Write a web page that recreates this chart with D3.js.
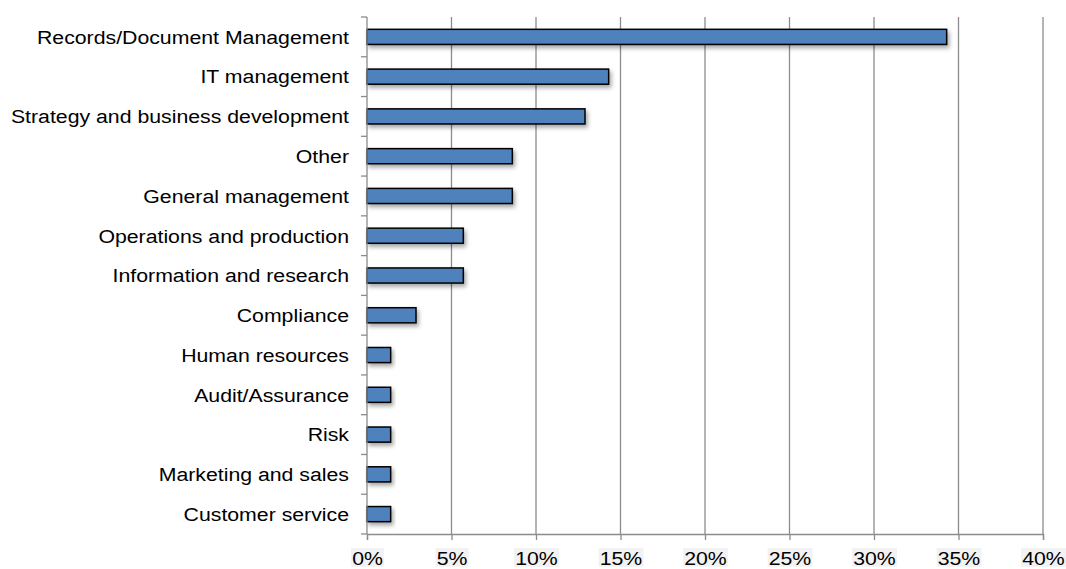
<!DOCTYPE html>
<html>
<head>
<meta charset="utf-8">
<script src="https://cdn.jsdelivr.net/npm/d3@7"></script>
<style>
  body { margin: 0; background: #fff; }
  svg { display: block; font-family: "Liberation Sans", Arial, sans-serif; }
</style>
</head>
<body>
<div id="chart"></div>
<script>
// categories, top to bottom
const CATEGORIES = [
  "Records/Document Management",
  "IT management",
  "Strategy and business development",
  "Other",
  "General management",
  "Operations and production",
  "Information and research",
  "Compliance",
  "Human resources",
  "Audit/Assurance",
  "Risk",
  "Marketing and sales",
  "Customer service"
];
// share of respondents, %
const VALUES = [34.3, 14.3, 12.9, 8.6, 8.6, 5.7, 5.7, 2.9, 1.4, 1.4, 1.4, 1.4, 1.4];
const X_TICKS = [0, 5, 10, 15, 20, 25, 30, 35, 40];

const WIDTH = 1066;
const HEIGHT = 569;
const MARGIN = {top: 17, right: 23, bottom: 35, left: 367};
const FONT_SIZE = 19;
const STRETCH = 1.12; // text in the picture is a bit wide

const SVG = d3.select("#chart").append("svg")
  .attr("width", WIDTH)
  .attr("height", HEIGHT);

const defs = SVG.append("defs");
const shadow = defs.append("filter")
  .attr("id", "shadow")
  .attr("x", "-10%").attr("y", "-50%")
  .attr("width", "130%").attr("height", "250%");
shadow.append("feDropShadow")
  .attr("dx", 2).attr("dy", 3)
  .attr("stdDeviation", 2.2)
  .attr("flood-color", "#000")
  .attr("flood-opacity", 0.35);

const X = d3.scaleLinear()
  .domain([0, 40])
  .range([MARGIN.left, WIDTH - MARGIN.right]);

const Y = d3.scaleBand()
  .domain(CATEGORIES)
  .range([MARGIN.top, HEIGHT - MARGIN.bottom])
  .paddingInner(0.62)
  .paddingOuter(0.31);

// gridlines
SVG.append("g")
  .selectAll("line")
  .data(X_TICKS.slice(1))
  .join("line")
  .attr("x1", d => X(d)).attr("x2", d => X(d))
  .attr("y1", MARGIN.top).attr("y2", HEIGHT - MARGIN.bottom)
  .attr("stroke", "#8c8c8c")
  .attr("stroke-width", 1.3);

// bars
SVG.append("g")
  .selectAll("rect")
  .data(VALUES)
  .join("rect")
  .attr("x", X(0))
  .attr("y", (d, i) => Y(CATEGORIES[i]))
  .attr("width", d => X(d) - X(0))
  .attr("height", Y.bandwidth())
  .attr("fill", "#4f81bd")
  .attr("stroke", "#000")
  .attr("stroke-width", 1.5)
  .attr("filter", "url(#shadow)");

// x axis
const xAxis = SVG.append("g")
  .attr("transform", `translate(0,${HEIGHT - MARGIN.bottom})`)
  .call(d3.axisBottom(X).tickValues(X_TICKS).tickFormat(d => d + "%").tickSize(6));
xAxis.select(".domain").attr("stroke", "#8c8c8c").attr("stroke-width", 1.3);
xAxis.selectAll(".tick line").attr("stroke", "#8c8c8c").attr("stroke-width", 1.3);
xAxis.selectAll(".tick text")
  .attr("y", 0).attr("dy", null)
  .attr("transform", `translate(0,31) scale(${STRETCH},1)`)
  .attr("font-size", FONT_SIZE)
  .attr("font-family", "Liberation Sans, Arial, sans-serif")
  .attr("fill", "#000");
xAxis.selectAll(".tick").each(function() {
  const t = d3.select(this);
  const txt = t.select("text");
  const bb = txt.node().getBBox();
  t.insert("rect", "text")
    .attr("transform", txt.attr("transform"))
    .attr("x", bb.x - 1).attr("y", bb.y)
    .attr("width", bb.width + 2).attr("height", bb.height - 2)
    .attr("fill", "#f2f2f2");
});

// y axis with ticks between categories
const step = Y.step();
const boundaries = d3.range(CATEGORIES.length + 1).map(i => MARGIN.top + i * step);
const yAxis = SVG.append("g");
yAxis.append("line")
  .attr("x1", X(0)).attr("x2", X(0))
  .attr("y1", MARGIN.top).attr("y2", HEIGHT - MARGIN.bottom)
  .attr("stroke", "#8c8c8c").attr("stroke-width", 1.3);
yAxis.selectAll("line.tk")
  .data(boundaries)
  .join("line")
  .attr("class", "tk")
  .attr("x1", X(0) - 6).attr("x2", X(0))
  .attr("y1", d => d).attr("y2", d => d)
  .attr("stroke", "#8c8c8c").attr("stroke-width", 1.3);
yAxis.selectAll("text")
  .data(CATEGORIES)
  .join("text")
  .attr("transform", d => `translate(${X(0) - 18},${Y(d) + Y.bandwidth() / 2}) scale(${STRETCH},1)`)
  .attr("dy", "0.36em")
  .attr("text-anchor", "end")
  .attr("font-size", FONT_SIZE)
  .attr("fill", "#000")
  .text(d => d);
</script>
</body>
</html>
